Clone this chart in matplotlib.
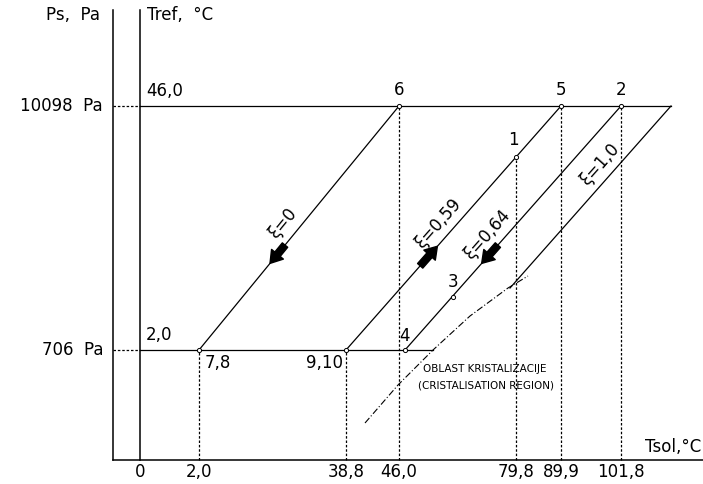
import numpy as np
import matplotlib.pyplot as plt

# schematic drawing units (diagram is not to scale)
# state points of the cycle
pt_names = ["1", "2", "3", "4", "5", "6", "7,8", "9,10"]
pt_x = [376, 481, 313, 265, 421, 259, 59, 206]
pt_y = [303, 354, 163, 110, 354, 354, 110, 110]

# temperature ticks on Tsol axis (dropped from these points)
drop_pts = ["7,8", "9,10", "6", "1", "5", "2"]
t_labels = ["0", "2,0", "38,8", "46,0", "79,8", "89,9", "101,8"]

# pressure levels
p_levels = [110, 354]
p_labels = ["706  Pa", "10098  Pa"]
tref_labels = ["2,0", "46,0"]
p_ends = [293, 531]

# concentration lines xi, from low to high pressure
xi_labels = ["ξ=0", "ξ=0,59", "ξ=0,64", "ξ=1,0"]
xi_x0 = [59, 206, 265, 370]
xi_y0 = [110, 110, 110, 172]
xi_x1 = [259, 421, 481, 531]
xi_y1 = [354, 354, 354, 354]
# arrow on line: (from, to) as fraction of line
xi_arrows = [(0.43, 0.355), (0.345, 0.425), (0.43, 0.355), None]

# crystallisation boundary
cryst_x = [225, 258, 293, 330, 368, 388]
cryst_y = [37, 75, 110, 144, 172, 184]

plt.rcParams['font.family'] = ['DejaVu Sans']
fs = 12

fig = plt.figure(figsize=(7.03, 4.84), dpi=100)
ax = fig.add_axes([0, 0, 1, 1])
ax.set_xlim(-140, 563)
ax.set_ylim(-24, 460)
ax.axis('off')

lw = 0.9
dash = (0, (2.0, 1.5))

# axes
ax.plot([-27, -27], [0, 450], color='k', lw=1.1)
ax.plot([0, 0], [0, 450], color='k', lw=1.1)
ax.plot([-27, 563], [0, 0], color='k', lw=1.1)
ax.text(-40, 445, "Ps,  Pa", ha='right', va='center', fontsize=fs)
ax.text(7, 445, "Tref,  °C", ha='left', va='center', fontsize=fs)
ax.text(561, 13, "Tsol,°C", ha='right', va='center', fontsize=fs)

# pressure levels
for y, lab, tl, xe in zip(p_levels, p_labels, tref_labels, p_ends):
    ax.plot([-27, 0], [y, y], color='k', lw=lw, ls=dash)
    ax.plot([0, xe], [y, y], color='k', lw=lw)
    ax.text(-37, y, lab, ha='right', va='center', fontsize=fs)
    ax.text(6, y + 6, tl, ha='left', va='bottom', fontsize=fs)

# dropped verticals and tick labels
pos = dict(zip(pt_names, zip(pt_x, pt_y)))
t_pos = [0]
for n in drop_pts:
    x, y = pos[n]
    ax.plot([x, x], [0, y], color='k', lw=lw, ls=dash)
    t_pos.append(x)
for x, lab in zip(t_pos, t_labels):
    ax.text(x, -12, lab, ha='center', va='center', fontsize=fs)

# xi lines
lab_off = [(-20, 0), (-20, 0), (-21, -2), (-20, 0)]
lab_frac = [0.52, 0.52, 0.48, 0.68]
for i, lab in enumerate(xi_labels):
    x0, y0, x1, y1 = xi_x0[i], xi_y0[i], xi_x1[i], xi_y1[i]
    ax.plot([x0, x1], [y0, y1], color='k', lw=lw)
    ang = np.degrees(np.arctan2(y1 - y0, x1 - x0))
    f = lab_frac[i]
    xx = x0 + f * (x1 - x0)
    yy = y0 + f * (y1 - y0)
    ax.text(xx + lab_off[i][0], yy + lab_off[i][1], lab, rotation=ang,
            rotation_mode='anchor', ha='center', va='center', fontsize=fs)
    if xi_arrows[i] is not None:
        fa, fb = xi_arrows[i]
        ax.annotate('', xy=(x0 + fb * (x1 - x0), y0 + fb * (y1 - y0)),
                    xytext=(x0 + fa * (x1 - x0), y0 + fa * (y1 - y0)),
                    arrowprops=dict(arrowstyle='simple,head_length=0.85,head_width=1.1,tail_width=0.5',
                                    color='k', shrinkA=0, shrinkB=0, mutation_scale=10))

# crystallisation line
ax.plot(cryst_x, cryst_y, color='k', lw=0.8, ls=(0, (6, 2, 1, 2)))
ax.text(345, 91, "OBLAST KRISTALIZACIJE", ha='center', va='center', fontsize=7.5)
ax.text(346, 75, "(CRISTALISATION REGION)", ha='center', va='center', fontsize=7.5)

# state points
ax.plot(pt_x, pt_y, 'o', ms=3, mfc='white', mec='k', mew=0.7, zorder=5)
lab_pos = {"1": (-3, 17), "2": (0, 16), "3": (0, 15), "4": (0, 14),
           "5": (0, 16), "6": (0, 16), "7,8": (6, -13), "9,10": (-3, -13)}
for n, x, y in zip(pt_names, pt_x, pt_y):
    dx, dy = lab_pos[n]
    ha = 'left' if n == "7,8" else ('right' if n == "9,10" else 'center')
    ax.text(x + dx, y + dy, n, ha=ha, va='center', fontsize=fs)

fig.savefig('out.png', dpi=100)
